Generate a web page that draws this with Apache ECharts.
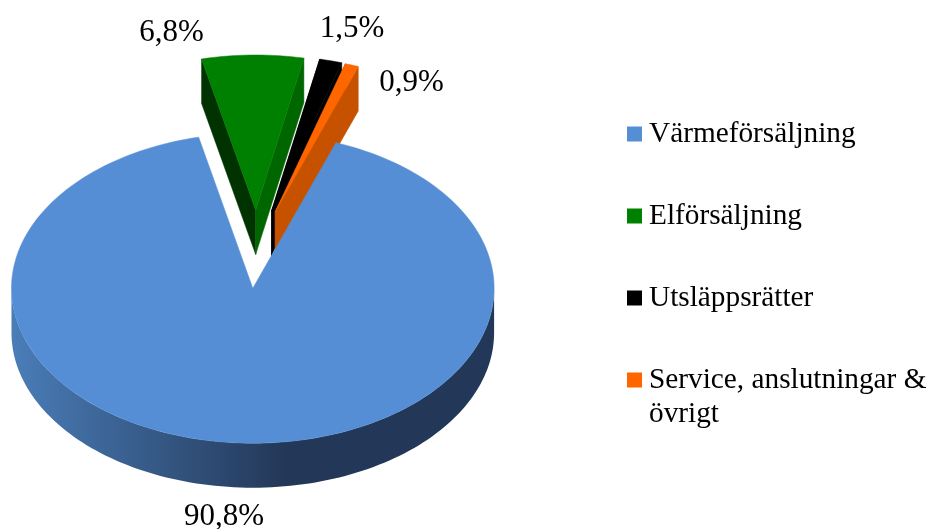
<!DOCTYPE html>
<html><head><meta charset="utf-8">
<style>html,body{margin:0;padding:0;background:#fff;overflow:hidden}#c{width:928px;height:529px}</style>
<script src="https://cdn.jsdelivr.net/npm/echarts@6/dist/echarts.min.js"></script>
</head><body><div id="c"></div>
<script>
// data
const categories = ['Värmeförsäljning', 'Elförsäljning', 'Utsläppsrätter', 'Service, anslutningar &\növrigt'];
const shares = [90.8, 6.8, 1.5, 0.9];
const shareLabels = ['90,8%', '6,8%', '1,5%', '0,9%'];

// styles and layout of the drawing
const topColors = ['#558ED5', '#008000', '#000000', '#FF6600'];
const leftWallColors = ['#2A4A75', '#003300', '#000000', '#7F3300'];
const rightWallColors = ['#233858', '#006600', '#000000', '#C65200'];
const sliceCentres = [[252.8, 288.2], [255.7, 210], [271.5, 211], [275.1, 212]];
const labelAnchors = [[224, 517], [171.5, 32.5], [352, 28.5], [411.5, 82.5]];
const RX = 241.3, RY = 155, DEPTH = 44.5, FIRST_START = 20.16;
const FONT = '"Liberation Serif","Times New Roman",serif';

const total = shares.reduce((a, b) => a + b, 0);
function startAngle(i) {
  let a = FIRST_START;
  for (let k = 0; k < i; k++) a += shares[k] / total * 360;
  return a;
}
function pt(c, deg, dy) {
  const r = deg * Math.PI / 180;
  return [c[0] + RX * Math.sin(r), c[1] - RY * Math.cos(r) + (dy || 0)];
}
function arc(c, from, to, dy) {
  const n = Math.max(2, Math.ceil(Math.abs(to - from) / 1.5));
  const out = [];
  for (let j = 0; j <= n; j++) out.push(pt(c, from + (to - from) * j / n, dy));
  return out;
}
function renderSlice(i) {
  return function (params, api) {
    const v = api.value(0);
    const a0 = startAngle(i), a1 = a0 + v / total * 360;
    const c = sliceCentres[i];
    const bottom = [c[0], c[1] + DEPTH];
    const children = [];
    if (i === 0) {
      // visible front rim of the large slice
      const rim = arc(c, 90, 270, 0).concat(arc(c, 270, 90, DEPTH));
      children.push({
        type: 'polygon', shape: { points: rim },
        style: {
          fill: {
            type: 'linear', global: true, x: 11, y: 0, x2: 285, y2: 0,
            colorStops: [{ offset: 0, color: '#4A7DB8' }, { offset: 1, color: '#233858' }]
          }
        }
      });
    } else {
      // side walls of the pulled-out slices
      const pL = pt(c, a0), pR = pt(c, a1);
      children.push({ type: 'polygon', shape: { points: [c, pL, [pL[0], pL[1] + DEPTH], bottom] }, style: { fill: leftWallColors[i], stroke: leftWallColors[i], lineWidth: 0.5 } });
      children.push({ type: 'polygon', shape: { points: [c, pR, [pR[0], pR[1] + DEPTH], bottom] }, style: { fill: rightWallColors[i], stroke: rightWallColors[i], lineWidth: 0.5 } });
    }
    children.push({
      type: 'polygon', shape: { points: [c].concat(arc(c, a0, a1, 0)) },
      style: { fill: topColors[i], stroke: topColors[i], lineWidth: 0.5, lineJoin: 'round' }
    });
    children.push({
      type: 'text',
      style: { text: shareLabels[i], x: labelAnchors[i][0], y: labelAnchors[i][1], align: 'center', verticalAlign: 'middle', font: '31px ' + FONT, fill: '#000' }
    });
    return { type: 'group', children };
  };
}

const series = categories.map((name, i) => ({
  type: 'custom', name, coordinateSystem: 'none', silent: true, animation: false,
  z: i === 0 ? 3 : 2,
  itemStyle: { color: topColors[i] },
  data: [{ name, value: [shares[i]] }],
  renderItem: renderSlice(i)
}));

const legendBase = {
  orient: 'vertical', left: 627, icon: 'rect', itemWidth: 15, itemHeight: 15, selectedMode: false, padding: 0,
  // a wrapped entry gets a blank first line so its swatch sits on its first text line
  formatter: (name) => (name.indexOf('\n') >= 0 ? '\n' + name : name),
  textStyle: { fontFamily: FONT, fontSize: 29.3, color: '#000', lineHeight: 34, padding: [3, 0, 0, 2] }
};
const chart = echarts.init(document.getElementById('c'), null, { renderer: 'canvas' });
chart.setOption({
  backgroundColor: '#fff',
  animation: false,
  legend: [
    Object.assign({}, legendBase, { top: 115.5, itemGap: 45, data: categories.slice(0, 3).map((name, i) => ({ name, itemStyle: { color: topColors[i] } })) }),
    Object.assign({}, legendBase, { top: 327.5, data: categories.slice(3).map((name) => ({ name, itemStyle: { color: topColors[3] } })) })
  ],
  series
});
</script></body></html>
